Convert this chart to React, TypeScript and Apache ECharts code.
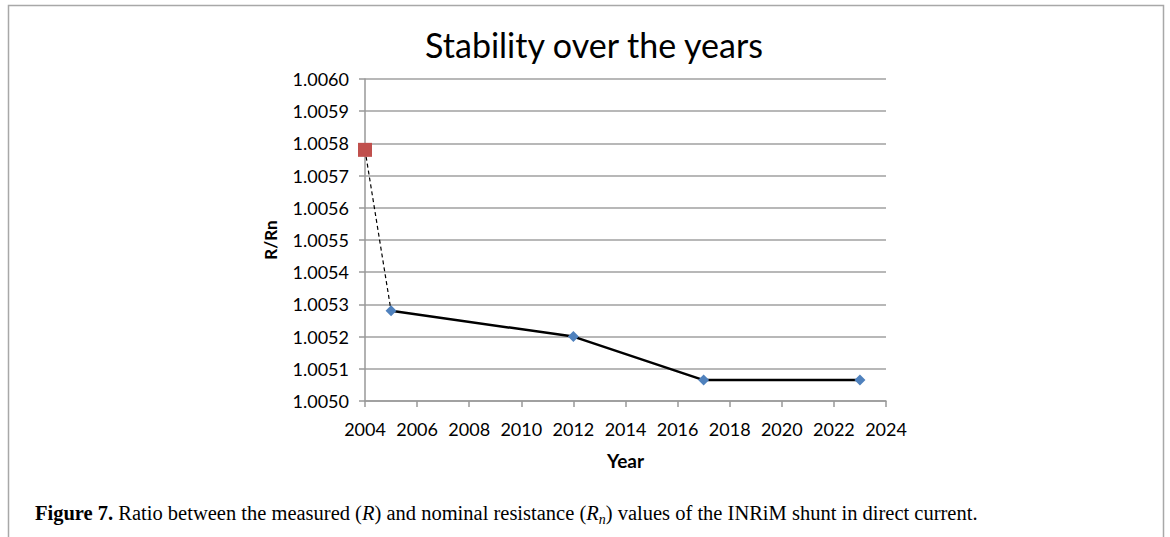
import React, { useEffect, useRef } from "react";
import * as echarts from "echarts";

const title = "Stability over the years";
const xName = "Year";
const yName = "R/Rn";
const firstPoint: [number, number] = [2004, 1.00578];
const years = [2005, 2012, 2017, 2023];
const ratios = [1.00528, 1.0052, 1.005065, 1.005065];

export default function App() {
  const ref = useRef<HTMLDivElement>(null);
  useEffect(() => {
    if (!ref.current) return;
    const chart = echarts.init(ref.current, null, { renderer: "svg" });
    const font = "Lato";
    const serif = "Liberation Serif";
    chart.setOption({
      animation: false,
      backgroundColor: "#ffffff",
      title: {
        text: title,
        left: 589,
        textAlign: "center",
        top: 22,
        textStyle: { fontFamily: font, fontSize: 34, fontWeight: "normal", color: "#000" },
      },
      grid: { left: 365, right: 284, top: 79, bottom: 136 },
      xAxis: {
        type: "value",
        min: 2004,
        max: 2024,
        interval: 2,
        name: xName,
        nameLocation: "middle",
        nameGap: 50,
        nameTextStyle: { fontFamily: font, fontSize: 19, fontWeight: "bold", color: "#000" },
        axisLine: { show: true, lineStyle: { color: "#999", width: 1.5 } },
        axisTick: { show: true, inside: false, length: 6, lineStyle: { color: "#999", width: 1.5 } },
        axisLabel: { fontFamily: font, fontSize: 18, color: "#000", margin: 19, formatter: (v: number) => String(v) },
        splitLine: { show: false },
      },
      yAxis: {
        type: "value",
        min: 1.005,
        max: 1.006,
        interval: 0.0001,
        name: yName,
        nameLocation: "middle",
        nameGap: 86,
        nameRotate: 90,
        nameTextStyle: { fontFamily: font, fontSize: 17, fontWeight: "bold", color: "#000" },
        axisLine: { show: true, lineStyle: { color: "#999", width: 1.5 } },
        axisTick: { show: true, inside: false, length: 6, lineStyle: { color: "#999", width: 1.5 } },
        axisLabel: {
          fontFamily: font,
          fontSize: 18,
          color: "#000",
          margin: 16,
          formatter: (v: number) => v.toFixed(4),
        },
        splitLine: { show: true, lineStyle: { color: "#a0a0a0", width: 1.5 } },
      },
      series: [
        {
          type: "line",
          data: [
            { value: firstPoint, symbol: "rect", symbolSize: 14, itemStyle: { color: "#c0504d" } },
            { value: [years[0], ratios[0]], symbol: "none" },
          ],
          lineStyle: { color: "#000", width: 1.2, type: [4, 3] },
          z: 2,
        },
        {
          type: "line",
          data: years.map((y, i) => [y, ratios[i]]),
          symbol: "diamond",
          symbolSize: 11,
          itemStyle: { color: "#4f81bd" },
          lineStyle: { color: "#000", width: 2.5 },
          z: 3,
        },
      ],
      graphic: [
        {
          type: "rect",
          shape: { x: 8.5, y: 5.5, width: 1155, height: 540 },
          style: { fill: "none", stroke: "#a8a8a8", lineWidth: 1.5 },
          silent: true,
        },
        {
          type: "text",
          left: 35,
          top: 502,
          style: {
            text:
              "{t|}{b|Figure 7.}{r| Ratio between the measured (}{i|R}{r|) and nominal resistance (}{i|R}{s|n}{r|) values of the INRiM shunt in direct current.}",
            fontFamily: serif,
            fontSize: 20.5,
            fill: "#000",
            rich: {
              t: { lineHeight: 28, fontSize: 20.5, fontFamily: serif },
              r: { fontFamily: serif, fontSize: 20.5, lineHeight: 28, color: "#000" },
              b: { fontFamily: serif, fontSize: 20.5, lineHeight: 28, fontWeight: "bold", color: "#000" },
              i: { fontFamily: serif, fontSize: 20.5, lineHeight: 28, fontStyle: "italic", color: "#000" },
              s: { fontFamily: serif, fontSize: 14, lineHeight: 14, fontStyle: "italic", color: "#000", verticalAlign: "bottom" },
            },
          },
        },
      ],
    });
    return () => chart.dispose();
  }, []);
  return (
    <div
      ref={ref}
      style={{ position: "fixed", left: 0, top: 0, width: 1170, height: 537, background: "#fff" }}
    />
  );
}
